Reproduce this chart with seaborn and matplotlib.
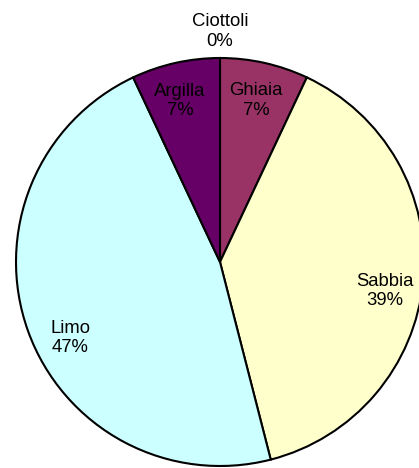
import numpy as np
import matplotlib
matplotlib.use("Agg")
import matplotlib.pyplot as plt
import seaborn as sns

# Grain size composition (percent)
categories = ["Ciottoli", "Ghiaia", "Sabbia", "Limo", "Argilla"]
values = [0, 7, 39, 47, 7]
colors = ["#9999FF", "#993366", "#FFFFCC", "#CCFFFF", "#660066"]
label_radius = [1.13, 0.81, 0.821, 0.824, 0.813]
label_angle_shift = [0, 0, -4.6, 7.1, 1.4]

sns.set_style("white")
plt.rcParams["font.family"] = ["Liberation Sans", "DejaVu Sans"]

W, H = 419, 468
fig = plt.figure(figsize=(W / 100, H / 100), dpi=100)
ax = fig.add_axes([0, 0, 1, 1])

wedges, _ = ax.pie(values, colors=colors, startangle=90, counterclock=False,
                   radius=1.0, wedgeprops=dict(edgecolor="black", linewidth=1.5))

for w, name, v, r, sh in zip(wedges, categories, values, label_radius, label_angle_shift):
    mid = np.deg2rad((w.theta1 + w.theta2) / 2 + sh)
    ax.text(r * np.cos(mid), r * np.sin(mid), f"{name}\n{v}%",
            ha="center", va="center", fontsize=13.3, linespacing=1.2, color="black")

# Map pixels: centre at (220, 262), radius 204 px
scale = 204.0
cx, cy = 220.0, 262.0
ax.set_xlim(-cx / scale, (W - cx) / scale)
ax.set_ylim(-(H - cy) / scale, cy / scale)
ax.set_aspect("auto")
ax.axis("off")

fig.savefig("out.png", dpi=100, facecolor="white")
